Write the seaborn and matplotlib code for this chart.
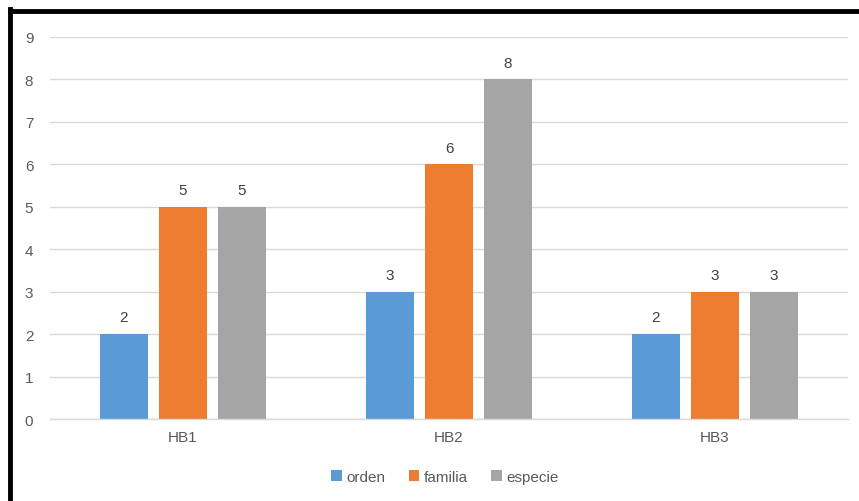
import matplotlib
matplotlib.use("Agg")
import matplotlib.pyplot as plt
import seaborn as sns
import pandas as pd
from matplotlib.lines import Line2D
from matplotlib.patches import Patch

categories = ["HB1", "HB2", "HB3"]
series = ["orden", "familia", "especie"]
orden = [2, 3, 2]
familia = [5, 6, 3]
especie = [5, 8, 3]
yticks = list(range(0, 10))

colors = ["#5B9BD5", "#ED7D31", "#A5A5A5"]
txt = "#595959"

rows = []
for s, vals in zip(series, [orden, familia, especie]):
    for c, v in zip(categories, vals):
        rows.append({"cat": c, "serie": s, "val": v})
df = pd.DataFrame(rows)

sns.set_theme(style="white")
plt.rcParams["font.family"] = ["Liberation Sans", "DejaVu Sans"]

fig = plt.figure(figsize=(8.59, 5.02), dpi=100)
ax = fig.add_axes([50/859, 1-420/502, 798/859, 382/502])
sns.barplot(data=df, x="cat", y="val", hue="serie", order=categories,
            hue_order=series, palette=colors, width=0.666, gap=0.2,
            saturation=1, ax=ax, legend=False, linewidth=0)
ax.set_xlim(-0.5, 2.5)
ax.set_ylim(0, 9)
ax.set_yticks(yticks)
ax.yaxis.grid(True, color="#D9D9D9", linewidth=1)
ax.set_axisbelow(True)
for sp in ["top", "right", "left"]:
    ax.spines[sp].set_visible(False)
ax.spines["bottom"].set_color("#D9D9D9")
ax.spines["bottom"].set_linewidth(1)
ax.set_xlabel("")
ax.set_ylabel("")
ax.tick_params(axis="both", length=0, colors=txt, labelsize=11)
ax.tick_params(axis="y", pad=12)
ax.tick_params(axis="x", pad=8)
for cont in ax.containers:
    ax.bar_label(cont, fmt="%d", padding=7, color="#404040", fontsize=11)

handles = [Patch(facecolor=c, edgecolor="none") for c in colors]
fig.legend(handles, series, loc="center", bbox_to_anchor=(445/859, 1-478/502),
           ncol=3, frameon=False, fontsize=11, labelcolor=txt,
           handlelength=0.7, handleheight=0.7, handletextpad=0.3, columnspacing=1.5)

# black border (left and top)
fig.add_artist(Line2D([10/859, 10/859], [0, 1-10/502], transform=fig.transFigure,
                      color="black", linewidth=3.5, solid_capstyle="projecting"))
fig.add_artist(Line2D([10/859, 1], [1-12/502, 1-12/502], transform=fig.transFigure,
                      color="black", linewidth=3.5, solid_capstyle="projecting"))

fig.savefig("out.png", dpi=100)
